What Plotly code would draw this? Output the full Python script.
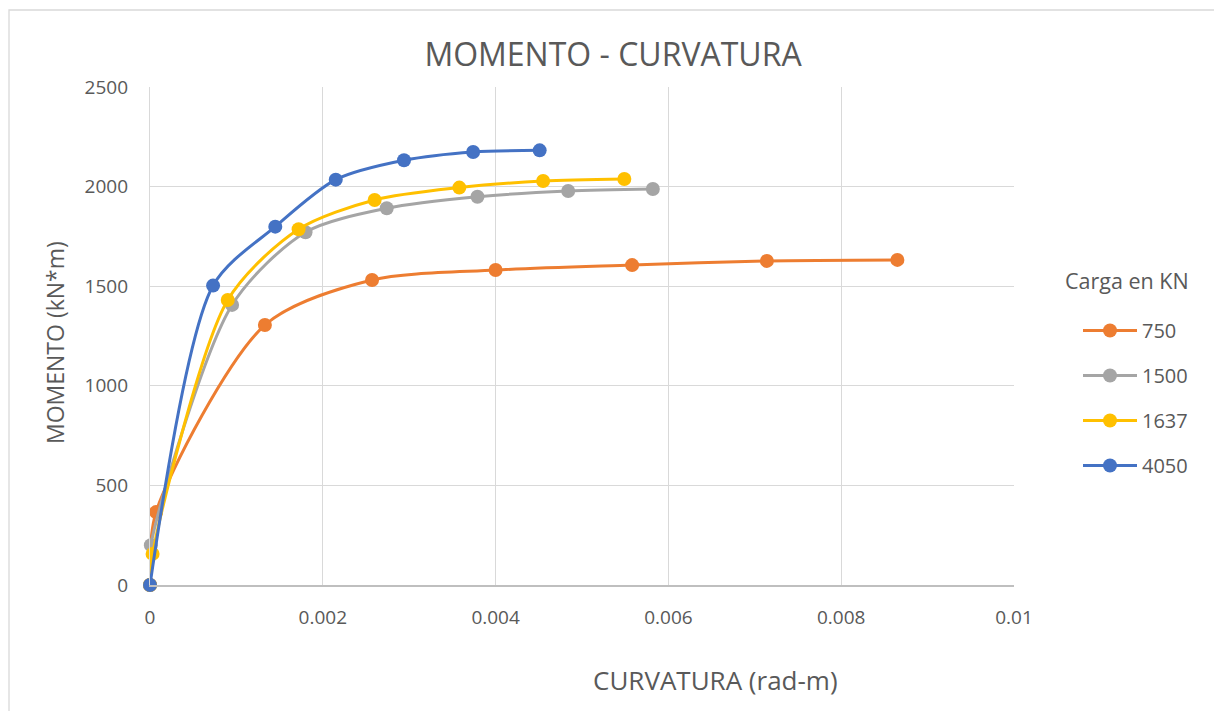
import plotly.graph_objects as go

# Data
x_750 = [0, 0.00007, 0.00133, 0.00257, 0.00400, 0.00558, 0.00714, 0.00865]
y_750 = [0, 366, 1305, 1531, 1581, 1606, 1627, 1632]

x_1500 = [0, 0.00001, 0.00095, 0.00180, 0.00274, 0.00379, 0.00484, 0.00582]
y_1500 = [0, 200, 1406, 1771, 1891, 1949, 1978, 1988]

x_1637 = [0, 0.00003, 0.00090, 0.00172, 0.00260, 0.00358, 0.00455, 0.00549]
y_1637 = [0, 156, 1431, 1786, 1933, 1995, 2028, 2038]

x_4050 = [0, 0.00073, 0.00145, 0.00215, 0.00294, 0.00374, 0.00451]
y_4050 = [0, 1503, 1799, 2035, 2132, 2174, 2182]

series = [
    ("750", x_750, y_750, "#ED7D31"),
    ("1500", x_1500, y_1500, "#A5A5A5"),
    ("1637", x_1637, y_1637, "#FFC000"),
    ("4050", x_4050, y_4050, "#4472C4"),
]

x_ticks = [0, 0.002, 0.004, 0.006, 0.008, 0.01]
x_tick_labels = ["0", "0.002", "0.004", "0.006", "0.008", "0.01"]
y_ticks = [0, 500, 1000, 1500, 2000, 2500]

FONT = "Open Sans, Liberation Sans, Arial, sans-serif"
TXT = "#595959"

# page body has an 8px margin: figure coordinates = screen - 8
OFF = 8
L, R, T, B = 150 - OFF, 1014 - OFF, 87 - OFF, 585 - OFF
W, H = 1222 - OFF, 711 - OFF
PW, PH = R - L, B - T


def px(xs):
    return (xs - OFF - L) / PW


def py(ys):
    return (B - (ys - OFF)) / PH


fig = go.Figure()
for i, (name, xs, ys, col) in enumerate(series):
    fig.add_trace(go.Scatter(
        x=xs, y=ys, name=name, mode="lines+markers",
        line=dict(color=col, width=3, shape="spline", smoothing=0.8),
        marker=dict(color=col, size=14),
        legendgroup=f"g{i}", cliponaxis=False,
    ))

fig.update_layout(
    width=W, height=H,
    paper_bgcolor="white", plot_bgcolor="white",
    margin=dict(l=L, r=W - R, t=T, b=H - B, pad=0),
    font=dict(family=FONT, color=TXT, size=19),
    title=dict(text="MOMENTO - CURVATURA", x=(613 - OFF) / W, xanchor="center",
               y=1 - (55 - OFF) / H, yanchor="middle",
               font=dict(size=32, color=TXT, family=FONT)),
    showlegend=True,
    legend=dict(x=px(1078), xanchor="left", y=py(311), yanchor="top",
                font=dict(size=20, color=TXT, family=FONT), tracegroupgap=16,
                itemwidth=54, bgcolor="rgba(0,0,0,0)"),
    xaxis=dict(range=[0, 0.01], tickvals=x_ticks, ticktext=x_tick_labels,
               showgrid=True, gridcolor="#D9D9D9", gridwidth=1.3,
               zeroline=False, showline=True, linecolor="#BFBFBF", linewidth=1.5,
               ticks="", ticklabelstandoff=14, tickfont=dict(size=19, color=TXT)),
    yaxis=dict(range=[0, 2500], tickvals=y_ticks,
               showgrid=True, gridcolor="#D9D9D9", gridwidth=1.3,
               zeroline=False, showline=True, linecolor="#D9D9D9", linewidth=1.3,
               ticks="", ticklabelstandoff=17, tickfont=dict(size=19, color=TXT)),
)

# axis titles
fig.add_annotation(text="CURVATURA (rad-m)", xref="paper", yref="paper",
                   x=px(715), y=py(680), xanchor="center", yanchor="middle",
                   showarrow=False, font=dict(size=26, color=TXT, family=FONT))
fig.add_annotation(text="MOMENTO (kN*m)", xref="paper", yref="paper",
                   x=px(55), y=py(343), xanchor="center", yanchor="middle",
                   textangle=-90, showarrow=False, font=dict(size=23, color=TXT, family=FONT))
# legend title
fig.add_annotation(text="Carga en KN", xref="paper", yref="paper",
                   x=px(1127), y=py(280), xanchor="center", yanchor="middle",
                   showarrow=False, font=dict(size=21.5, color=TXT, family=FONT))

# chart border (left, top, right; bottom runs off the page)
fig.add_shape(type="rect", xref="paper", yref="paper",
              x0=px(9), x1=px(1217),
              y0=py(740), y1=py(10),
              line=dict(color="#D9D9D9", width=1.3), fillcolor="rgba(0,0,0,0)", layer="below")

fig.write_html("out.html")
